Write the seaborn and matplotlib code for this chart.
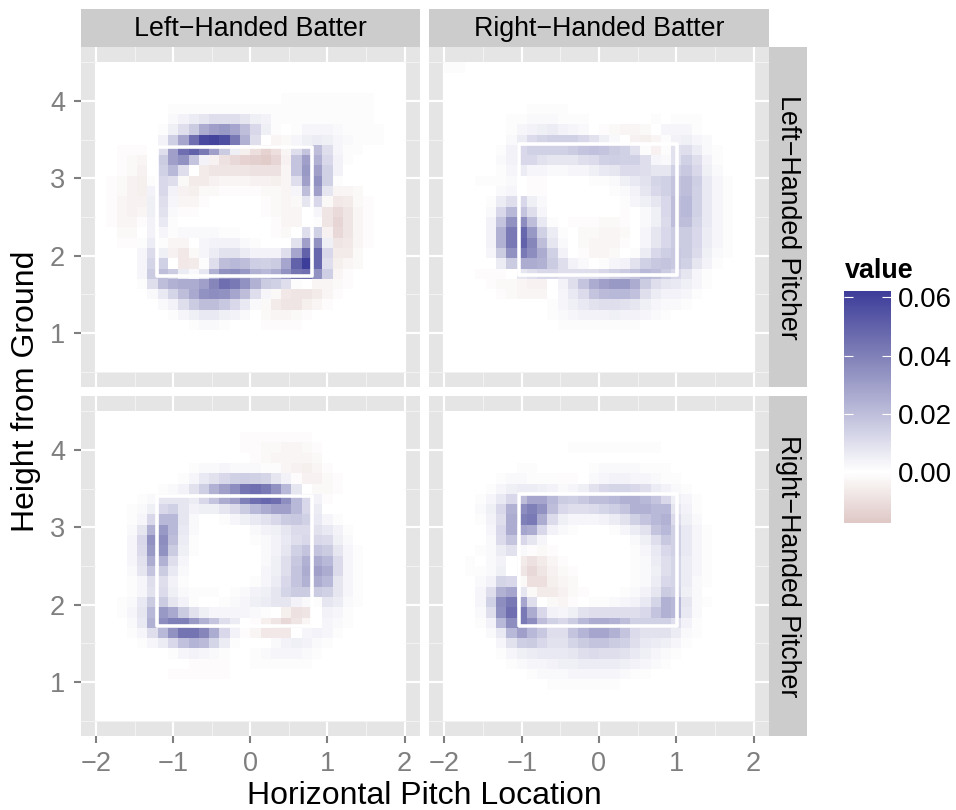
import numpy as np
import matplotlib
matplotlib.use('Agg')
import matplotlib.pyplot as plt
import seaborn as sns
from matplotlib.colors import LinearSegmentedColormap
from matplotlib.patches import Rectangle

plt.rcParams['font.family'] = 'Liberation Sans'

# cell values, in thousandths, 30 x 30, top row first
blank = [0] * 30

lhb_lhp = [
    blank, blank, blank,
    [0,0,0,0,0,0, 0,0,0,0,0,0,0,0,0,0,0,0,1,1,1,1,1,1, 1,1,1,0,0,0],
    [0,0,0,0,0,0, 0,1,1,1,1,1,1,1,1,1,1,1,1,1,1,1,1,1, 1,1,1,0,0,0],
    [0,0,0,0,0,0, 0,2,4,6,8,10,10,10,8,5,4,1,1,1,1,1,1,1, 1,1,1,0,0,0],
    [0,0,0,0,0,0, 1,5,10,16,26,30,32,28,20,12,5,1,0,1,3,3,3,2, 1,1,1,1,0,0],
    [0,0,0,0,0,0, 4,15,28,46,58,60,56,42,24,10,0,-3,-2,3,5,6,5,3, 2,1,1,1,0,0],
    [0,0,-1,-1,-1,0, 10,30,46,50,42,30,16,5,-5,-10,-14,-10,-3,10,18,20,10,3, 1,1,0,0,0,0],
    [0,0,-1,-2,-3,0, 16,30,34,18,4,-4,-9,-12,-14,-15,-16,-13,-4,18,30,24,12,4, 1,0,0,0,0,0],
    [0,0,-1,-2,-4,0, 14,22,10,0,-6,-8,-8,-8,-8,-9,-9,-9,-3,18,32,30,14,4, 0,0,0,0,0,0],
    [0,-1,-2,-4,-5,1, 12,10,-2,-6,-6,-4,-3,-3,-3,-4,-4,-5,-3,10,30,34,14,1, 0,0,0,0,0,0],
    [0,-1,-2,-4,-5,4, 12,4,-4,-5,-2,-2,-1,-1,-1,-1,-2,-2,-3,3,20,30,8,-3, -3,-2,0,0,0,0],
    [0,-1,-3,-4,-4,5, 10,3,-3,-3,-1,0,0,0,0,0,-1,-2,-3,-2,8,12,-2,-7, -6,-2,-1,0,0,0],
    [0,-1,-3,-4,-3,5, 9,2,-1,-1,0,0,0,0,0,0,-1,-2,-3,-3,0,3,-8,-11, -8,-3,-1,0,0,0],
    [0,-1,-3,-3,-1,4, 7,1,0,0,0,0,0,0,0,0,0,-1,-3,-3,0,1,-8,-13, -8,-3,-1,0,0,0],
    [0,0,-2,-2,0,4, 3,1,2,2,2,2,1,1,0,0,0,-1,-2,0,10,14,-4,-12, -8,-3,-1,0,0,0],
    [0,0,-1,-1,1,6, 1,-3,-3,0,3,4,4,4,2,1,0,0,0,9,30,34,5,-8, -7,-3,-1,0,0,0],
    [0,0,0,0,3,11, 5,-4,-7,-2,3,6,9,9,6,4,4,4,10,28,50,48,12,-6, -6,-2,0,0,0,0],
    [0,0,0,0,3,13, 14,0,-7,-6,1,10,20,22,20,15,14,16,28,50,62,48,10,-5, -3,-2,0,0,0,0],
    [0,0,0,0,3,16, 20,16,6,2,8,24,34,36,32,24,22,26,34,44,46,34,15,-3, -1,0,0,0,0,0],
    [0,0,0,0,1,10, 20,24,26,26,30,38,46,42,34,24,16,14,10,1,0,-3,-3,-2, -1,0,0,0,0,0],
    [0,0,0,0,0,2, 7,13,20,27,34,36,34,28,20,10,3,-2,-7,-8,-8,-6,-3,-1, 0,0,0,0,0,0],
    [0,0,0,0,0,0, 2,4,10,16,20,20,17,12,7,2,-2,-6,-8,-8,-5,-3,-1,0, 0,0,0,0,0,0],
    [0,0,0,0,0,0, 0,1,3,5,7,7,5,4,2,0,-2,-3,-3,-2,-1,0,0,0, 0,0,0,0,0,0],
    [0,0,0,0,0,0, 0,0,0,1,2,2,1,0,0,0,-1,-1,-1,-1,0,0,0,0, 0,0,0,0,0,0],
    blank, blank, blank, blank,
]

rhb_lhp = [
    [1,1,0,0,0,0, 0,0,0,0,0,0,0,0,0,0,0,0,0,0,0,0,0,0, 0,0,0,0,0,0],
    blank, blank, blank,
    [0,0,0,0,0,0, 0,0,1,1,1,1,0,0,0,0,0,0,0,0,0,0,0,0, 0,0,0,0,0,0],
    [0,0,0,0,0,0, 1,1,2,2,2,1,1,1,0,0,0,0,0,0,1,0,1,1, 1,0,0,0,0,0],
    [0,0,0,0,0,0, 1,3,4,5,6,4,3,2,0,-1,-2,-3,-3,-2,0,3,3,3, 1,0,0,0,0,0],
    [0,0,0,0,0,0, 2,6,11,13,14,14,14,12,9,5,2,0,-4,-5,-3,1,4,5, 3,2,0,0,0,0],
    [0,0,0,0,0,1, 4,12,14,14,14,14,16,18,19,18,16,14,9,1,-4,1,9,10, 6,2,1,0,0,0],
    [0,0,0,0,0,2, 4,12,12,9,8,8,8,10,11,14,15,14,14,10,3,2,9,14, 10,4,1,0,0,0],
    [0,0,0,0,0,1, 3,6,3,3,2,2,3,3,5,7,8,11,11,10,8,8,14,17, 12,5,2,0,0,0],
    [0,0,0,1,1,1, 2,0,-1,-1,0,0,0,0,1,1,2,5,7,9,13,14,18,20, 15,7,3,1,0,0],
    [0,0,0,0,0,2, 3,0,-1,-1,0,0,0,0,0,0,1,2,4,8,12,14,18,20, 14,7,3,1,0,0],
    [0,0,0,0,1,6, 10,12,5,2,0,0,0,0,0,0,0,1,3,5,8,12,20,22, 14,7,3,1,0,0],
    [0,0,0,0,2,12, 22,18,10,3,0,0,0,0,0,0,0,-1,0,2,5,12,20,22, 14,7,3,1,0,0],
    [0,0,0,0,4,18, 34,36,20,7,1,0,-1,-1,-1,-2,-2,-1,0,2,5,11,20,20, 13,7,3,1,0,0],
    [0,0,0,0,4,24, 42,48,32,14,6,1,0,-2,-2,-3,-3,-2,0,3,8,12,16,16, 12,6,3,1,0,0],
    [0,0,0,0,4,24, 42,50,38,20,8,2,0,-2,-3,-3,-3,-1,0,3,8,12,16,16, 12,6,3,1,0,0],
    [0,0,0,0,3,16, 34,42,36,26,14,4,0,-1,-3,-3,-2,0,1,6,12,15,17,16, 11,5,2,1,0,0],
    [0,0,0,0,0,6, 16,26,26,24,16,10,4,2,0,1,3,4,9,14,17,18,17,14, 8,4,1,0,0,0],
    [0,0,0,-1,-1,-1, 0,8,10,12,12,10,10,10,10,12,14,16,18,22,20,16,12,8, 3,1,0,0,0,0],
    [0,0,0,0,-1,-2, -2,-3,-4,-4,0,4,10,18,26,30,32,32,26,16,10,8,7,5, 3,1,0,0,0,0],
    [0,0,0,0,0,-1, -2,-3,-3,-3,0,3,7,11,18,21,22,22,19,10,6,4,4,3, 1,0,0,0,0,0],
    [0,0,0,0,0,0, 0,0,0,0,1,3,5,7,9,10,10,9,8,5,3,2,2,1, 0,0,0,0,0,0],
    [0,0,0,0,0,0, 0,0,0,0,1,2,3,4,4,4,5,4,4,3,2,1,0,0, 0,0,0,0,0,0],
    [0,0,0,0,0,0, 0,0,0,0,0,1,1,1,1,1,1,1,1,0,0,0,0,0, 0,0,0,0,0,0],
    blank, blank, blank, blank,
]

lhb_rhp = [
    blank, blank,
    [0,0,0,0,0,0, 0,0,0,0,0,0,0,0,-1,-1,-1,-1,-1,-1,-1,0,0,0, 0,0,0,0,0,0],
    [0,0,0,0,0,0, 0,0,0,0,0,0,0,0,-1,-1,-2,-2,-3,-3,-2,-1,0,0, 0,0,0,0,0,0],
    [0,0,0,0,0,0, 0,0,0,0,0,0,0,0,0,-1,-2,-3,-3,-3,-3,-2,0,0, 0,0,0,0,0,0],
    [0,0,0,0,0,0, 0,0,0,1,2,2,3,2,2,2,1,1,-3,-4,-5,-3,-1,0, 0,0,0,0,0,0],
    [0,0,0,0,0,0, 0,0,1,3,7,9,12,14,15,14,13,8,4,-1,-4,-4,-2,-1, 0,0,0,0,0,0],
    [0,0,0,0,0,0, 1,2,4,9,15,24,30,36,44,46,42,34,22,8,0,-2,-2,-1, 0,0,0,0,0,0],
    [0,0,0,0,1,2, 8,8,8,6,12,18,26,30,40,46,48,46,36,22,12,4,-1,0, 0,0,0,0,0,0],
    [0,0,0,1,2,5, 12,14,8,4,5,5,8,11,16,22,26,30,30,22,12,6,0,0, 0,0,0,0,0,0],
    [0,0,0,1,3,12, 22,22,8,2,0,0,1,3,5,7,9,12,16,17,14,7,3,1, 0,0,0,0,0,0],
    [0,0,0,2,8,24, 32,22,7,2,0,0,0,0,0,2,4,5,8,11,11,9,7,4, 1,0,0,0,0,0],
    [0,0,0,3,12,34, 36,20,6,1,0,0,0,0,0,1,2,4,7,10,12,12,11,5, 2,0,0,0,0,0],
    [0,0,0,3,11,32, 34,16,5,1,0,0,0,0,0,0,2,4,8,14,18,18,16,8, 3,1,0,0,0,0],
    [0,0,0,3,9,26, 24,10,3,0,0,0,0,0,0,0,2,5,10,17,24,26,22,11, 3,1,0,0,0,0],
    [0,0,0,2,8,18, 16,7,2,0,0,0,0,0,0,0,3,5,10,18,26,30,26,11, 3,1,0,0,0,0],
    [0,0,0,1,3,10, 10,4,1,0,0,0,0,0,0,1,3,6,12,18,24,26,22,8, 3,1,0,0,0,0],
    [0,0,0,1,3,9, 11,5,2,1,1,1,0,1,2,4,5,8,13,16,16,16,14,8, 3,1,0,0,0,0],
    [0,0,1,2,7,16, 16,8,4,1,0,0,1,2,3,5,6,8,8,4,2,1,8,6, 2,1,0,0,0,0],
    [0,0,1,3,8,22, 32,27,16,9,5,3,3,3,3,2,1,0,-5,-9,-8,0,4,3, 1,0,0,0,0,0],
    [0,0,0,2,7,24, 36,40,40,32,24,18,10,6,0,-1,-5,-8,-12,-8,-3,0,3,2, 1,0,0,0,0,0],
    [0,0,0,1,3,10, 22,34,44,44,38,26,12,4,-1,-3,-7,-7,-7,0,3,4,3,1, 0,0,0,0,0,0],
    [0,0,0,0,1,3, 6,12,19,23,21,13,6,1,0,0,0,2,4,5,4,2,1,0, 0,0,0,0,0,0],
    [0,0,0,0,0,0, 0,1,3,4,3,2,1,0,0,1,2,3,3,3,2,1,0,0, 0,0,0,0,0,0],
    [0,0,0,0,0,0, 0,0,0,-1,-1,-1,-1,0,0,1,1,1,1,1,1,0,0,0, 0,0,0,0,0,0],
    [0,0,0,0,0,0, 0,-1,-1,-1,-1,-1,-1,0,0,0,0,0,0,0,0,0,0,0, 0,0,0,0,0,0],
    blank, blank, blank, blank,
]

rhb_rhp = [
    blank, blank, blank,
    [0,0,0,0,0,0, 0,0,0,0,0,0,1,1,1,1,1,1,1,1,1,0,0,0, 0,0,0,0,0,0],
    blank,
    [0,0,0,0,0,0, 0,1,1,0,0,0,0,0,1,2,2,2,2,1,1,1,0,0, 0,0,0,0,0,0],
    [0,0,0,0,0,1, 2,2,1,1,1,-1,-1,0,2,3,4,4,3,3,2,1,1,0, 0,0,0,0,0,0],
    [0,0,0,0,1,3, 5,6,6,5,4,2,3,5,9,12,13,13,12,10,6,4,2,1, 0,0,0,0,0,0],
    [0,0,0,1,3,7, 12,20,28,28,22,16,15,17,20,20,22,24,24,22,18,12,5,3, 1,0,0,0,0,0],
    [0,0,0,2,5,12, 24,36,40,34,20,12,10,10,11,13,15,18,24,24,22,22,8,4, 1,0,0,0,0,0],
    [0,0,0,1,4,10, 26,40,42,26,11,5,3,3,3,4,6,9,14,18,22,24,11,5, 2,0,0,0,0,0],
    [0,0,0,0,3,12, 26,28,26,12,4,2,1,0,0,0,1,3,6,9,18,22,14,7, 3,1,0,0,0,0],
    [0,0,0,0,2,11, 18,12,8,3,0,0,0,0,0,0,0,0,2,5,10,17,14,7, 3,1,0,0,0,0],
    [0,0,0,1,2,6, 9,2,-1,-2,-1,0,0,0,0,0,0,0,1,3,7,12,14,7, 3,1,0,0,0,0],
    [0,0,1,0,2,4, 0,-6,-9,-6,-3,-1,0,0,0,0,0,0,1,2,6,10,13,6, 3,1,0,0,0,0],
    [0,0,1,1,2,5, 0,-8,-12,-8,-4,-2,-1,0,0,0,0,0,1,2,5,10,13,6, 3,1,0,0,0,0],
    [0,0,0,2,4,13, 12,-2,-10,-10,-5,-3,-2,0,0,0,0,0,1,2,6,12,13,6, 2,1,0,0,0,0],
    [0,0,0,3,10,24, 28,8,-2,-6,-6,-4,-2,-1,0,0,0,1,2,4,8,16,14,5, 2,0,0,0,0,0],
    [0,0,0,3,14,36, 42,28,10,0,-2,-3,-1,0,1,1,2,3,4,7,13,24,22,8, 2,1,0,0,0,0],
    [0,0,0,2,10,34, 46,42,26,12,4,3,5,9,10,10,10,10,10,12,18,24,22,7, 2,0,0,0,0,0],
    [0,0,0,1,4,22, 36,42,36,20,14,12,16,22,26,26,24,20,14,14,14,14,10,4, 1,0,0,0,0,0],
    [0,0,0,0,2,7, 22,30,22,17,10,10,18,23,28,28,24,18,11,9,9,9,6,2, 1,0,0,0,0,0],
    [0,0,0,0,0,3, 9,15,16,12,9,9,13,16,18,18,16,14,10,7,6,5,3,1, 0,0,0,0,0,0],
    [0,0,0,0,0,1, 3,5,6,7,7,7,8,10,11,10,10,9,7,5,3,2,1,0, 0,0,0,0,0,0],
    [0,0,0,0,0,0, 1,2,3,3,4,5,5,6,6,6,6,5,4,3,2,1,0,0, 0,0,0,0,0,0],
    [0,0,0,0,0,0, 0,0,1,2,2,2,3,3,3,3,3,2,1,1,0,0,0,0, 0,0,0,0,0,0],
    [0,0,0,0,0,0, 0,0,0,0,1,1,1,1,1,1,1,0,0,0,0,0,0,0, 0,0,0,0,0,0],
    blank, blank, blank,
]

# strike zone outline per panel: left, right, bottom, top
zone_lhb_lhp = [-1.21, 0.80, 1.74, 3.41]
zone_rhb_lhp = [-1.04, 1.01, 1.75, 3.44]
zone_lhb_rhp = [-1.21, 0.80, 1.72, 3.40]
zone_rhb_rhp = [-1.04, 1.01, 1.73, 3.43]

col_labels = ['Left\u2212Handed Batter', 'Right\u2212Handed Batter']
row_labels = ['Left\u2212Handed Pitcher', 'Right\u2212Handed Pitcher']
x_ticks = [-2, -1, 0, 1, 2]
x_tick_labels = ['\u22122', '\u22121', '0', '1', '2']
y_ticks = [1, 2, 3, 4]
legend_ticks = [0.00, 0.02, 0.04, 0.06]

W, H = 956, 810
vmin, vmax = -0.0175, 0.0622
x0, y_top, n_cells = -2.0, 4.5, 30
cell = 4.0 / n_cells


def frac(v):
    return (v - vmin) / (vmax - vmin)


cmap = LinearSegmentedColormap.from_list('value', [
    (0.0, '#DFC8C6'),
    (frac(-0.008), '#EFE5E4'),
    (frac(0.0), '#FFFFFF'),
    (frac(0.02), '#BEBEDB'),
    (frac(0.04), '#8080B8'),
    (1.0, '#3D3D9A'),
])


def to_col(x):
    return (np.asarray(x, dtype=float) - x0) / cell


def to_row(y):
    return (y_top - np.asarray(y, dtype=float)) / cell


def px_axes(left, top, right, bottom, **kw):
    return fig.add_axes([left / W, 1 - bottom / H, (right - left) / W, (bottom - top) / H], **kw)


def draw_panel(ax, grid, zone, show_x, show_y):
    sns.heatmap(np.array(grid) / 1000.0, ax=ax, cmap=cmap, vmin=vmin, vmax=vmax, cbar=False,
                xticklabels=False, yticklabels=False)
    ax.set_facecolor('#E5E5E5')
    ax.set_axisbelow(True)
    ax.set_xlim(to_col(-2.2), to_col(2.2))
    ax.set_ylim(to_row(0.3), to_row(4.7))
    ax.set_xticks(to_col(x_ticks))
    ax.set_yticks(to_row(y_ticks))
    ax.set_xticks(to_col([-1.5, -0.5, 0.5, 1.5]), minor=True)
    ax.set_yticks(to_row([0.5, 1.5, 2.5, 3.5, 4.5]), minor=True)
    ax.grid(True, which='major', color='white', lw=1.6)
    ax.grid(True, which='minor', color='#F2F2F2', lw=0.8)
    ax.tick_params(which='minor', length=0)
    ax.tick_params(which='major', color='#7F7F7F', width=1.5, length=5,
                   labelcolor='#7F7F7F', labelsize=19.5, pad=6,
                   bottom=show_x, left=show_y, labelbottom=show_x, labelleft=show_y)
    if show_x:
        ax.set_xticklabels(x_tick_labels)
    if show_y:
        ax.set_yticklabels([str(t) for t in y_ticks], rotation=0)
    for s in ax.spines.values():
        s.set_visible(False)
    left, right, bottom, top = zone
    ax.add_patch(Rectangle((to_col(left), to_row(top)), to_col(right) - to_col(left),
                           to_row(bottom) - to_row(top), fill=False, ec='white', lw=2.6,
                           joinstyle='round', zorder=5))


fig = plt.figure(figsize=(W / 100, H / 100), dpi=100)

col_px = [(80.5, 420), (429, 769)]
row_px = [(47, 387), (396, 736)]

ax_tl = px_axes(col_px[0][0], row_px[0][0], col_px[0][1], row_px[0][1])
ax_tr = px_axes(col_px[1][0], row_px[0][0], col_px[1][1], row_px[0][1])
ax_bl = px_axes(col_px[0][0], row_px[1][0], col_px[0][1], row_px[1][1])
ax_br = px_axes(col_px[1][0], row_px[1][0], col_px[1][1], row_px[1][1])

draw_panel(ax_tl, lhb_lhp, zone_lhb_lhp, False, True)
draw_panel(ax_tr, rhb_lhp, zone_rhb_lhp, False, False)
draw_panel(ax_bl, lhb_rhp, zone_lhb_rhp, True, True)
draw_panel(ax_br, rhb_rhp, zone_rhb_rhp, True, False)

# strips
for (l, r), label in zip(col_px, col_labels):
    s = px_axes(l, 9, r, 47, facecolor='#CCCCCC', xticks=[], yticks=[])
    s.text(0.5, 0.47, label, ha='center', va='center', fontsize=19.3, transform=s.transAxes)
    for sp in s.spines.values():
        sp.set_visible(False)
for (t, b), label in zip(row_px, row_labels):
    s = px_axes(769, t, 807, b, facecolor='#CCCCCC', xticks=[], yticks=[])
    s.text(0.5, 0.5, label, ha='center', va='center', rotation=-90, fontsize=19.3, transform=s.transAxes)
    for sp in s.spines.values():
        sp.set_visible(False)

fig.text(424 / W, 1 - 796 / H, 'Horizontal Pitch Location', ha='center', va='center', fontsize=23)
fig.text(26 / W, 1 - 391 / H, 'Height from Ground', ha='center', va='center', rotation=90, fontsize=23)

# legend
cax = px_axes(844, 291, 891, 523)
norm = matplotlib.colors.Normalize(vmin, vmax)
cb = fig.colorbar(matplotlib.cm.ScalarMappable(norm=norm, cmap=cmap), cax=cax)
cb.outline.set_visible(False)
cb.set_ticks(legend_ticks)
cb.set_ticklabels(['%.2f' % t for t in legend_ticks])
cax.tick_params(length=0, labelsize=20, pad=5, labelcolor='black')
cax.hlines(legend_ticks, 0, 0.2, color='white', lw=0.8)
cax.hlines(legend_ticks, 0.8, 1, color='white', lw=0.8)
fig.text(845 / W, 1 - 271 / H, 'value', ha='left', va='center', fontsize=19.4, fontweight='bold')

fig.savefig('out.png', dpi=100)
